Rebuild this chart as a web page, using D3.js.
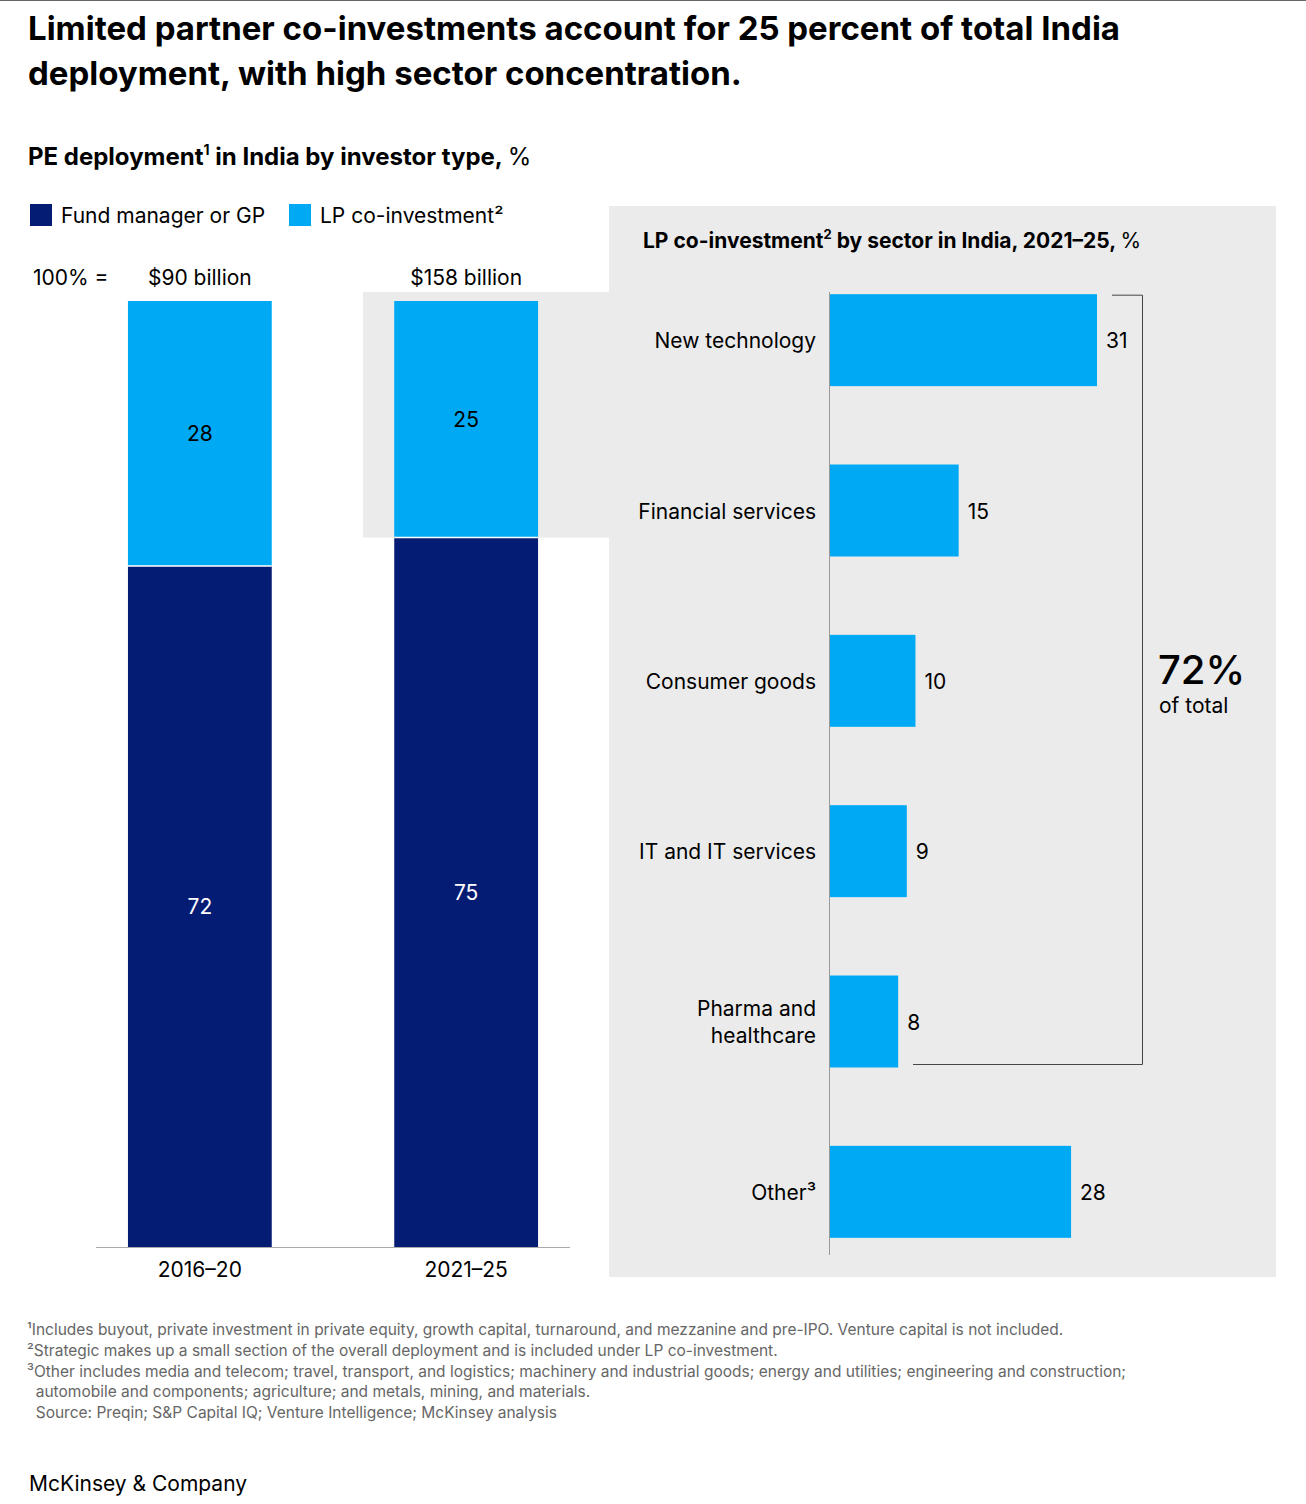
<!DOCTYPE html>
<html><head><meta charset="utf-8">
<script src="https://cdn.jsdelivr.net/npm/d3@7"></script>
<style>body{margin:0;background:#fff;font-family:Inter,"Noto Sans",sans-serif;}</style>
</head><body><div id="chart"></div>
<script>
// data
const periods = ["2016–20", "2021–25"]
const totals = ["$90 billion", "$158 billion"]
const gpShare = [72, 75]
const lpShare = [28, 25]
const sectors = ["New technology", "Financial services", "Consumer goods", "IT and IT services", "Pharma and|healthcare", "Other³"]
const sectorValues = [31, 15, 10, 9, 8, 28]
const footnotes = [
  "¹Includes buyout, private investment in private equity, growth capital, turnaround, and mezzanine and pre-IPO. Venture capital is not included.",
  "²Strategic makes up a small section of the overall deployment and is included under LP co-investment.",
  "³Other includes media and telecom; travel, transport, and logistics; machinery and industrial goods; energy and utilities; engineering and construction;",
  "  automobile and components; agriculture; and metals, mining, and materials.",
  "  Source: Preqin; S&P Capital IQ; Venture Intelligence; McKinsey analysis"
]

const W = 1306, H = 1504
const navy = "#051C75", cyan = "#00A9F4", grey = "#EBEBEB"

const svg = d3.select("#chart").append("svg").attr("width", W).attr("height", H)

svg.append("line").attr("x1", 0).attr("x2", W).attr("y1", 0.5).attr("y2", 0.5).attr("stroke", "#666")

// title
svg.selectAll("text.title").data(["Limited partner co-investments account for 25 percent of total India", "deployment, with high sector concentration."])
  .join("text").attr("x", 28).attr("y", (d, i) => 40 + i * 45)
  .attr("font-size", 33).attr("font-weight", 700).attr("fill", "#000").text(d => d)

const sub = svg.append("text").attr("x", 28).attr("y", 165).attr("font-size", 24).attr("font-weight", 700)
sub.append("tspan").text("PE deployment")
sub.append("tspan").attr("font-size", 14).attr("dy", -10).text("1")
sub.append("tspan").attr("dy", 10).text(" in India by investor type, ")
sub.append("tspan").attr("font-weight", 400).text("%")

// legend
const leg = [["Fund manager or GP", navy, 30], ["LP co-investment²", cyan, 289]]
leg.forEach(([t, c, x]) => {
  svg.append("rect").attr("x", x).attr("y", 204).attr("width", 22).attr("height", 22).attr("fill", c)
  svg.append("text").attr("x", x + 31).attr("y", 223).attr("font-size", 21).text(t)
})

// grey panels
svg.append("rect").attr("x", 609).attr("y", 206).attr("width", 667).attr("height", 1071).attr("fill", grey)

// left stacked bars
const x = d3.scaleBand().domain(periods).range([96, 570]).paddingInner(0.46).paddingOuter(0.12)
const y = d3.scaleLinear().domain([0, 100]).range([1247, 301])

svg.append("rect").attr("x", 363).attr("y", 292).attr("width", 246).attr("height", y(gpShare[1]) - 292).attr("fill", grey)

periods.forEach((p, i) => {
  const bx = x(p), bw = x.bandwidth()
  svg.append("rect").attr("x", bx).attr("y", y(gpShare[i])).attr("width", bw).attr("height", y(0) - y(gpShare[i])).attr("fill", navy)
  svg.append("rect").attr("x", bx).attr("y", y(100)).attr("width", bw).attr("height", y(gpShare[i]) - y(100)).attr("fill", cyan)
  svg.append("line").attr("x1", bx).attr("x2", bx + bw).attr("y1", y(gpShare[i])).attr("y2", y(gpShare[i])).attr("stroke", "#fff").attr("stroke-width", 1.5)
  svg.append("text").attr("x", bx + bw / 2).attr("y", (y(0) + y(gpShare[i])) / 2 + 8).attr("text-anchor", "middle").attr("font-size", 21).attr("fill", "#fff").text(gpShare[i])
  svg.append("text").attr("x", bx + bw / 2).attr("y", (y(100) + y(gpShare[i])) / 2 + 8).attr("text-anchor", "middle").attr("font-size", 21).text(lpShare[i])
  svg.append("text").attr("x", bx + bw / 2).attr("y", 285).attr("text-anchor", "middle").attr("font-size", 21).text(totals[i])
  svg.append("text").attr("x", bx + bw / 2).attr("y", 1277).attr("text-anchor", "middle").attr("font-size", 21).text(p)
})
svg.append("text").attr("x", 33).attr("y", 285).attr("font-size", 21).text("100% =")
svg.append("line").attr("x1", 96).attr("x2", 570).attr("y1", 1247.5).attr("y2", 1247.5).attr("stroke", "#aaa")

// right panel
const rt = svg.append("text").attr("x", 643).attr("y", 248).attr("font-size", 21).attr("font-weight", 700)
rt.append("tspan").text("LP co-investment")
rt.append("tspan").attr("font-size", 13).attr("dy", -9).text("2")
rt.append("tspan").attr("dy", 9).text(" by sector in India, 2021–25, ")
rt.append("tspan").attr("font-weight", 400).text("%")

const xs = d3.scaleLinear().domain([0, 31]).range([829, 1097])
const ys = d3.scaleBand().domain(sectors).range([255, 1277]).paddingInner(0.46).paddingOuter(0.23)

svg.append("line").attr("x1", 829.5).attr("x2", 829.5).attr("y1", 292).attr("y2", 1255).attr("stroke", "#999")

sectors.forEach((s, i) => {
  const by = ys(s), bh = ys.bandwidth(), cy = by + bh / 2
  svg.append("rect").attr("x", xs(0) + 1).attr("y", by).attr("width", xs(sectorValues[i]) - xs(0) - 1).attr("height", bh).attr("fill", cyan)
  svg.append("text").attr("x", xs(sectorValues[i]) + 9).attr("y", cy + 8).attr("font-size", 21).text(sectorValues[i])
  const lines = s.split("|")
  lines.forEach((l, j) => {
    svg.append("text").attr("x", 816).attr("y", cy + 8 + (j - (lines.length - 1) / 2) * 27)
      .attr("text-anchor", "end").attr("font-size", 21).text(l)
  })
})

// bracket
const bTop = ys(sectors[0]) + 1, bBot = ys(sectors[4]) + ys.bandwidth() - 3
svg.append("path").attr("fill", "none").attr("stroke", "#444")
  .attr("d", `M1112,${bTop}H1142.5V${bBot}H913`)
svg.append("text").attr("x", 1158).attr("y", 684).attr("font-size", 40).attr("font-weight", 500).text("72%")
svg.append("text").attr("x", 1159).attr("y", 713).attr("font-size", 21).text("of total")

// footnotes
svg.selectAll("text.fn").data(footnotes).join("text")
  .attr("x", 27).attr("y", (d, i) => 1335 + i * 20.8).attr("font-size", 15.5).attr("fill", "#666")
  .attr("xml:space", "preserve").style("white-space", "pre").text(d => d)

svg.append("text").attr("x", 29).attr("y", 1491).attr("font-size", 21).text("McKinsey & Company")
</script></body></html>
